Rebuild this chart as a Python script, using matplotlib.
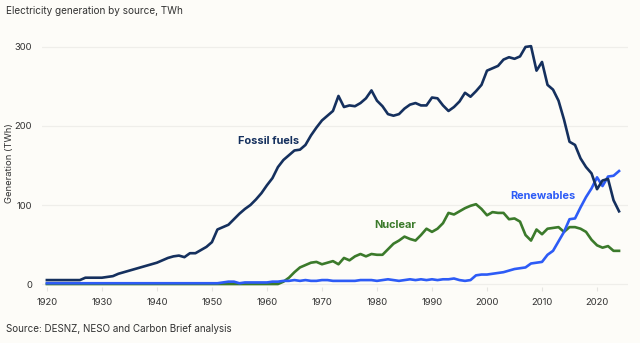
import matplotlib
matplotlib.use("Agg")
import matplotlib.pyplot as plt
import numpy as np

plt.rcParams['font.family'] = ['Inter', 'DejaVu Sans']

years = list(range(1920, 2025))

fossil = [5, 5, 5, 5, 5, 5, 5, 8, 8, 8,
          8, 9, 10, 13, 15, 17, 19, 21, 23, 25,
          27, 30, 33, 35, 36, 34, 39, 39, 43, 47,
          53, 69, 72, 75, 82, 89, 95, 100, 107, 115,
          125, 134, 148, 157, 163, 169, 170, 176, 188, 198,
          207, 213, 219, 238, 224, 226, 225, 229, 235, 245,
          232, 225, 215, 213, 215, 222, 227, 229, 226, 226,
          236, 235, 226, 219, 224, 231, 242, 237, 244, 252,
          270, 273, 276, 284, 287, 285, 288, 300, 301, 270,
          281, 252, 246, 232, 208, 180, 176, 159, 148, 140,
          120, 131, 133, 106, 92]

nuclear = [0] * 43 + [3, 8, 15, 21, 24, 27, 28,
          25, 27, 29, 25, 33, 30, 35, 38, 35, 38,
          37, 37, 44, 51, 55, 60, 57, 55, 62, 70,
          66, 70, 77, 90, 88, 92, 96, 99, 101, 95,
          87, 91, 90, 90, 82, 83, 79, 62, 55, 69,
          63, 70, 71, 72, 66, 72, 72, 70, 66, 56,
          49, 46, 48, 42, 42]

renewables = [1] * 31 + [1, 2, 3, 3, 1, 2, 2, 2, 2,
              2, 3, 3, 4, 4, 5, 4, 5, 4, 4,
              5, 5, 4, 4, 4, 4, 4, 5, 5, 5,
              4, 5, 6, 5, 4, 5, 6, 5, 6, 5,
              6, 5, 6, 6, 7, 5, 4, 5, 11, 12,
              12, 13, 14, 15, 17, 19, 20, 21, 26, 27,
              28, 37, 42, 54, 66, 82, 83, 97, 110, 121,
              135, 124, 136, 137, 143]

xticks = [1920, 1930, 1940, 1950, 1960, 1970, 1980, 1990, 2000, 2010, 2020]
yticks = [0, 100, 200, 300]

bg = '#FDFCF8'
c_fossil = '#15305E'
c_nuclear = '#3B7A2B'
c_renew = '#2D5BF6'
txt = '#333333'

fig = plt.figure(figsize=(6.4, 3.43), dpi=100, facecolor=bg)
ax = fig.add_axes([0.065, 0.1627, 0.916, 0.735], facecolor=bg)

lw = 1.9
ax.plot(years, nuclear, color=c_nuclear, lw=lw, zorder=3, solid_joinstyle='round')
ax.plot(years, renewables, color=c_renew, lw=lw, zorder=4, solid_joinstyle='round')
ax.plot(years, fossil, color=c_fossil, lw=lw, zorder=5, solid_joinstyle='round')

ax.set_xlim(1919.04, 2025.6)
ax.set_ylim(-4, 315)
ax.set_yticks(yticks)
ax.set_xticks(xticks)
ax.grid(axis='y', color='#EFEEEA', lw=0.9)
ax.set_axisbelow(True)
for s in ax.spines.values():
    s.set_visible(False)
ax.tick_params(axis='y', length=0, pad=7, labelsize=6.8, labelcolor=txt)
ax.tick_params(axis='x', length=3, color='#E6E5E1', pad=5, labelsize=6.8, labelcolor=txt)

ax.set_ylabel('Generation (TWh)', fontsize=6.8, color=txt, va='center')
ax.yaxis.set_label_coords(-0.054, 0.493)

ax.text(1954.7, 181, 'Fossil fuels', color=c_fossil, fontsize=7.9, fontweight='bold', va='center')
ax.text(1979.5, 75, 'Nuclear', color=c_nuclear, fontsize=7.9, fontweight='bold', va='center')
ax.text(2004.3, 111, 'Renewables', color=c_renew, fontsize=7.9, fontweight='bold', va='center')

fig.text(6 / 640, 1 - 10.5 / 343, 'Electricity generation by source, TWh', fontsize=7.2,
         color=txt, va='center', ha='left')
fig.text(6 / 640, 1 - 329 / 343, 'Source: DESNZ, NESO and Carbon Brief analysis', fontsize=7.1,
         color=txt, va='center', ha='left')

fig.savefig('out.png', dpi=100, facecolor=bg)
